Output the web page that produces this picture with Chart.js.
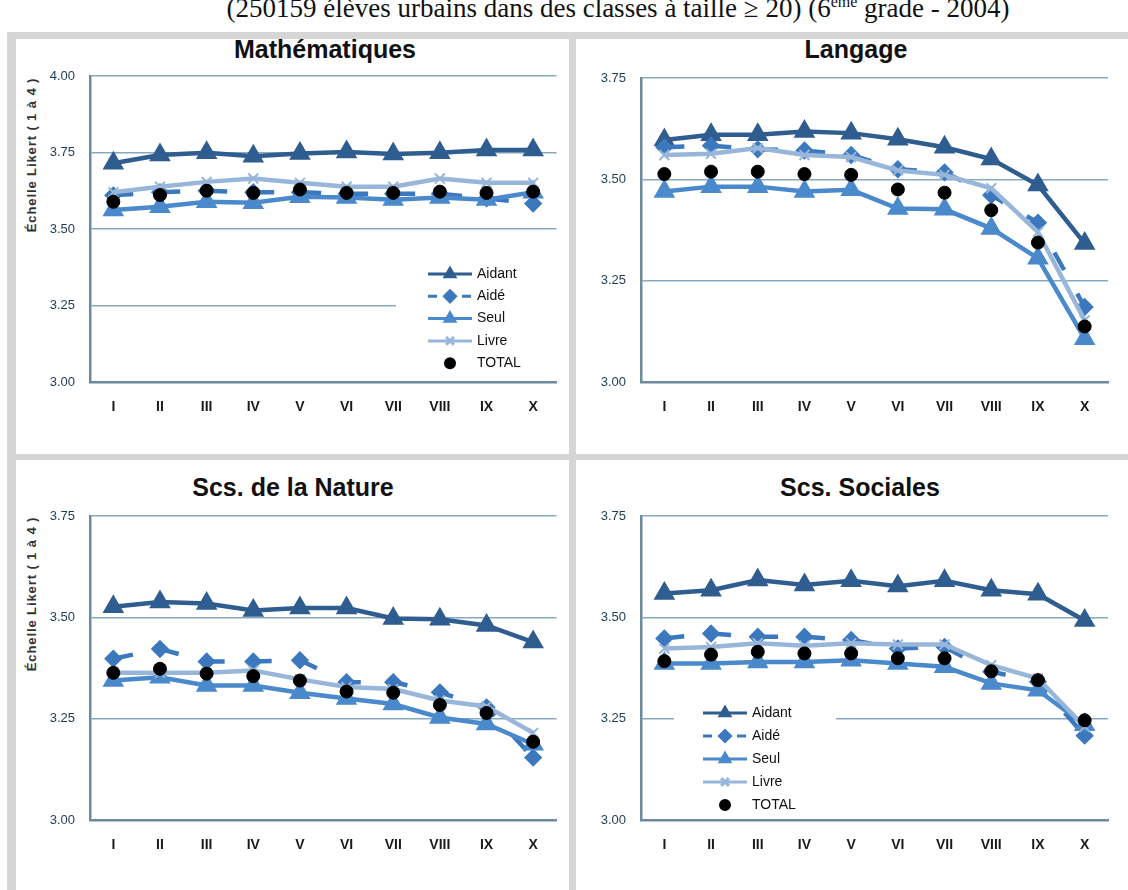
<!DOCTYPE html>
<html>
<head>
<meta charset="utf-8">
<script src="https://cdn.jsdelivr.net/npm/chart.js@4.4.0/dist/chart.umd.min.js"></script>
<style>
    body { margin: 0; width: 1128px; height: 890px; overflow: hidden; background: #fff; position: relative; font-family: "Liberation Sans", Arial, sans-serif; }
    #supTitle { position: absolute; left: 54px; top: -13px; width: 1128px; text-align: center; font-family: "Liberation Serif", serif; font-size: 27px; line-height: 30px; color: #111; white-space: nowrap; }
    #frame { position: absolute; left: 7px; top: 32px; width: 1130px; height: 870px; background: #d6d6d6; }
    .panel { position: absolute; background: #fff; }
    .ptitle { position: absolute; font-weight: bold; font-size: 25px; color: #111; white-space: nowrap; transform: translate(-50%, -50%); }
    .ylab { position: absolute; font-weight: bold; font-size: 13px; letter-spacing: 0.9px; color: #333; white-space: nowrap; transform: translate(-50%, -50%) rotate(-90deg); }
    canvas { position: absolute; }
</style>
</head>
<body>
<div id="supTitle">(250159 élèves urbains dans des classes à taille ≥ 20) (6<sup style="font-size:16px">ème</sup> grade - 2004)</div>
<div id="frame"></div>
<div class="panel" style="left:16px;top:39px;width:553px;height:415px"></div>
<div class="panel" style="left:576px;top:39px;width:560px;height:415px"></div>
<div class="panel" style="left:16px;top:460px;width:553px;height:440px"></div>
<div class="panel" style="left:576px;top:460px;width:560px;height:440px"></div>

<div class="ptitle" style="left:325px;top:49px">Mathématiques</div>
<div class="ptitle" style="left:856px;top:49px">Langage</div>
<div class="ptitle" style="left:293px;top:487px">Scs. de la Nature</div>
<div class="ptitle" style="left:860px;top:487px">Scs. Sociales</div>
<div class="ylab" style="left:31px;top:155px">Échelle Likert ( 1 à 4 )</div>
<div class="ylab" style="left:31px;top:594px">Échelle Likert ( 1 à 4 )</div>

<canvas id="cMath" width="553" height="414" style="left:16px;top:40px"></canvas>
<canvas id="cLang" width="552" height="414" style="left:576px;top:40px"></canvas>
<canvas id="cNat" width="553" height="430" style="left:16px;top:460px"></canvas>
<canvas id="cSoc" width="552" height="430" style="left:576px;top:460px"></canvas>

<script>
    // Niveaux (catégories)
    const categories = ['I', 'II', 'III', 'IV', 'V', 'VI', 'VII', 'VIII', 'IX', 'X'];
    const seriesNames = ['Aidant', 'Aidé', 'Seul', 'Livre', 'TOTAL'];

    // Mathématiques
    const mathAidant = [3.715, 3.742, 3.749, 3.738, 3.747, 3.752, 3.745, 3.749, 3.758, 3.758];
    const mathAide   = [3.610, 3.620, 3.625, 3.620, 3.620, 3.615, 3.615, 3.615, 3.600, 3.583];
    const mathSeul   = [3.562, 3.573, 3.589, 3.586, 3.605, 3.603, 3.596, 3.603, 3.596, 3.620];
    const mathLivre  = [3.620, 3.638, 3.654, 3.665, 3.651, 3.638, 3.638, 3.665, 3.651, 3.651];
    const mathTotal  = [3.589, 3.611, 3.625, 3.618, 3.629, 3.618, 3.618, 3.622, 3.618, 3.622];

    // Langage
    const langAidant = [3.597, 3.610, 3.610, 3.618, 3.614, 3.599, 3.579, 3.550, 3.486, 3.342];
    const langAide   = [3.579, 3.583, 3.574, 3.571, 3.560, 3.525, 3.517, 3.461, 3.393, 3.185];
    const langSeul   = [3.470, 3.482, 3.482, 3.470, 3.474, 3.428, 3.426, 3.379, 3.305, 3.107];
    const langLivre  = [3.560, 3.563, 3.577, 3.560, 3.555, 3.522, 3.511, 3.478, 3.370, 3.152];
    const langTotal  = [3.513, 3.519, 3.519, 3.513, 3.511, 3.475, 3.467, 3.424, 3.344, 3.137];

    // Scs. de la Nature
    const natAidant = [3.526, 3.538, 3.534, 3.517, 3.523, 3.523, 3.497, 3.495, 3.480, 3.439];
    const natAide   = [3.398, 3.422, 3.391, 3.391, 3.394, 3.340, 3.340, 3.315, 3.278, 3.154];
    const natSeul   = [3.344, 3.352, 3.332, 3.332, 3.314, 3.300, 3.286, 3.253, 3.237, 3.187];
    const natLivre  = [3.363, 3.363, 3.363, 3.369, 3.347, 3.328, 3.323, 3.295, 3.280, 3.215];
    const natTotal  = [3.363, 3.373, 3.361, 3.355, 3.344, 3.317, 3.314, 3.284, 3.264, 3.193];

    // Scs. Sociales
    const socAidant = [3.559, 3.567, 3.592, 3.580, 3.590, 3.577, 3.590, 3.567, 3.557, 3.492];
    const socAide   = [3.448, 3.460, 3.452, 3.452, 3.444, 3.423, 3.427, 3.366, 3.341, 3.208];
    const socSeul   = [3.386, 3.386, 3.390, 3.390, 3.394, 3.386, 3.378, 3.337, 3.320, 3.235];
    const socLivre  = [3.423, 3.427, 3.436, 3.430, 3.436, 3.433, 3.433, 3.382, 3.349, 3.230];
    const socTotal  = [3.392, 3.408, 3.415, 3.411, 3.411, 3.399, 3.399, 3.367, 3.345, 3.246];

    const COLORS = {
        aidant: '#2f5d90',
        aide: '#3b78bd',
        seul: '#4a89cc',
        livre: '#98b6da',
        total: '#000000',
        grid: '#86a9bf',
        axis: '#6c8a9b'
    };

    // legende dessinee dans la zone du graphique, fond blanc
    const boxLegend = {
        id: 'boxLegend',
        beforeDatasetsDraw(chart, args, opts) {
            if (!opts || !opts.show) return;
            const ctx = chart.ctx;
            ctx.save();
            ctx.fillStyle = '#fff';
            ctx.fillRect(opts.x, opts.y, opts.w, opts.h);
            chart.data.datasets.forEach((ds, i) => {
                const y = opts.rowY + i * opts.rowStep;
                const x1 = opts.lineX, x2 = opts.lineX + 44, xm = (x1 + x2) / 2;
                if (ds.showLine !== false) {
                    ctx.strokeStyle = ds.borderColor;
                    ctx.lineWidth = 3;
                    ctx.setLineDash(ds.legendDash || []);
                    ctx.beginPath();
                    ctx.moveTo(x1, y);
                    ctx.lineTo(x2, y);
                    ctx.stroke();
                    ctx.setLineDash([]);
                }
                ctx.fillStyle = ds.pointBackgroundColor;
                ctx.strokeStyle = ds.pointBorderColor;
                Chart.helpers.drawPoint(ctx, {
                    pointStyle: ds.pointStyle,
                    radius: ds.pointStyle === 'circle' ? 4.5 : 5.5,
                    rotation: 0,
                    borderWidth: ds.pointStyle === 'crossRot' ? 1.5 : 1
                }, xm, y);
                ctx.fillStyle = '#111';
                ctx.font = '14px "Liberation Sans", Arial';
                ctx.textBaseline = 'middle';
                ctx.textAlign = 'left';
                ctx.fillText(ds.label, opts.textX, y);
            });
            ctx.restore();
        }
    };

    function makeDatasets(aidant, aide, seul, livre, total) {
        return [
            {
                label: seriesNames[0], data: aidant, order: 5,
                borderColor: COLORS.aidant, borderWidth: 4.5,
                pointStyle: 'triangle', pointRadius: 8,
                pointBackgroundColor: COLORS.aidant, pointBorderColor: COLORS.aidant
            },
            {
                label: seriesNames[1], data: aide, order: 4,
                borderColor: COLORS.aide, borderWidth: 4.5, borderDash: [20, 27], legendDash: [9, 8],
                pointStyle: 'rectRot', pointRadius: 6,
                pointBackgroundColor: COLORS.aide, pointBorderColor: COLORS.aide
            },
            {
                label: seriesNames[2], data: seul, order: 3,
                borderColor: COLORS.seul, borderWidth: 4.5,
                pointStyle: 'triangle', pointRadius: 8,
                pointBackgroundColor: COLORS.seul, pointBorderColor: COLORS.seul
            },
            {
                label: seriesNames[3], data: livre, order: 2,
                borderColor: COLORS.livre, borderWidth: 4.5,
                pointStyle: 'crossRot', pointRadius: 7, pointBorderWidth: 2,
                pointBackgroundColor: COLORS.livre, pointBorderColor: COLORS.livre
            },
            {
                label: seriesNames[4], data: total, order: 1,
                showLine: false,
                borderColor: COLORS.total,
                pointStyle: 'circle', pointRadius: 6.5,
                pointBackgroundColor: COLORS.total, pointBorderColor: COLORS.total
            }
        ];
    }

    function makeChart(canvasId, datasets, cfg) {
        const ctx = document.getElementById(canvasId);
        return new Chart(ctx, {
            type: 'line',
            data: { labels: categories, datasets },
            options: {
                responsive: false,
                animation: false,
                devicePixelRatio: 1,
                layout: { padding: { left: 0, top: cfg.top, right: cfg.right, bottom: 0 } },
                scales: {
                    x: {
                        offset: true,
                        grid: { display: false, drawTicks: false },
                        border: { display: true, color: COLORS.axis, width: 2.5 },
                        ticks: {
                            padding: 17, color: '#1a1a1a',
                            font: { family: '"Liberation Sans", Arial', size: 14, weight: 'bold' }
                        },
                        afterFit: s => { s.height = cfg.xh; }
                    },
                    y: {
                        min: 3, max: cfg.yMax,
                        grid: { color: COLORS.grid, lineWidth: 1.5, drawTicks: false },
                        border: { display: true, color: COLORS.axis, width: 2.5 },
                        ticks: {
                            stepSize: 0.25, padding: 15, color: '#1d3a55',
                            font: { family: '"Liberation Sans", Arial', size: 13 },
                            callback: v => v.toFixed(2)
                        },
                        afterFit: s => { s.width = cfg.yw; }
                    }
                },
                plugins: {
                    legend: { display: false },
                    tooltip: { enabled: false },
                    boxLegend: cfg.legend || { show: false }
                }
            },
            plugins: [boxLegend]
        });
    }

    makeChart('cMath', makeDatasets(mathAidant, mathAide, mathSeul, mathLivre, mathTotal), {
        top: 36, right: 11, yw: 74, xh: 72, yMax: 4,
        legend: { show: true, x: 380, y: 216, w: 162, h: 122, lineX: 412, textX: 461, rowY: 234, rowStep: 22.3 }
    });
    makeChart('cLang', makeDatasets(langAidant, langAide, langSeul, langLivre, langTotal), {
        top: 38, right: 20, yw: 65, xh: 72, yMax: 3.75
    });
    makeChart('cNat', makeDatasets(natAidant, natAide, natSeul, natLivre, natTotal), {
        top: 56, right: 11, yw: 74, xh: 70, yMax: 3.75
    });
    makeChart('cSoc', makeDatasets(socAidant, socAide, socSeul, socLivre, socTotal), {
        top: 56, right: 20, yw: 65, xh: 70, yMax: 3.75,
        legend: { show: true, x: 98, y: 237, w: 162, h: 119, lineX: 127, textX: 176, rowY: 253, rowStep: 23 }
    });
</script>
</body>
</html>
